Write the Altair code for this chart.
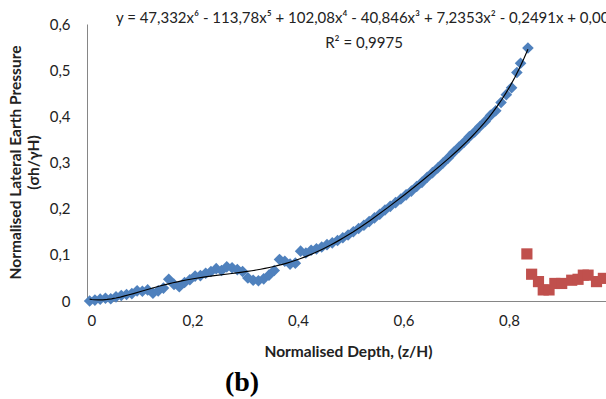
import altair as alt
import pandas as pd

# Blue diamonds (measured series)
blue_x = [0.005, 0.015, 0.025, 0.035, 0.045, 0.055, 0.065, 0.075, 0.085, 0.095,
          0.105, 0.115, 0.125, 0.135, 0.145, 0.155, 0.165, 0.175, 0.185, 0.195,
          0.205, 0.215, 0.225, 0.235, 0.245, 0.255, 0.265, 0.275, 0.285, 0.295,
          0.305, 0.315, 0.325, 0.335, 0.345, 0.355, 0.365, 0.375, 0.385, 0.395,
          0.405, 0.415, 0.425, 0.435, 0.445, 0.455, 0.465, 0.475, 0.485, 0.495,
          0.505, 0.515, 0.525, 0.535, 0.545, 0.555, 0.565, 0.575, 0.585, 0.595,
          0.605, 0.615, 0.625, 0.635, 0.645, 0.655, 0.665, 0.675, 0.685, 0.695,
          0.705, 0.715, 0.725, 0.735, 0.745, 0.755, 0.765, 0.775, 0.785, 0.795,
          0.805, 0.815, 0.822, 0.836]
blue_y = [0.000, 0.002, 0.004, 0.006, 0.005, 0.009, 0.012, 0.014, 0.016, 0.022,
          0.021, 0.024, 0.017, 0.022, 0.028, 0.047, 0.036, 0.031, 0.040, 0.046,
          0.054, 0.055, 0.060, 0.064, 0.070, 0.066, 0.074, 0.072, 0.068, 0.064,
          0.050, 0.045, 0.044, 0.048, 0.056, 0.066, 0.090, 0.086, 0.080, 0.082,
          0.108, 0.104, 0.110, 0.113, 0.117, 0.122, 0.126, 0.131, 0.137, 0.143,
          0.150, 0.157, 0.164, 0.172, 0.180, 0.188, 0.197, 0.205, 0.213, 0.221,
          0.230, 0.238, 0.248, 0.257, 0.268, 0.278, 0.288, 0.299, 0.310, 0.322,
          0.333, 0.344, 0.356, 0.366, 0.378, 0.389, 0.402, 0.412, 0.430, 0.447,
          0.462, 0.495, 0.515, 0.548]

# Red squares (second series)
red_x = [0.834, 0.843, 0.856, 0.865, 0.876, 0.887, 0.900, 0.919, 0.931, 0.941,
         0.950, 0.966, 0.979]
red_y = [0.102, 0.058, 0.042, 0.024, 0.024, 0.038, 0.038, 0.045, 0.047, 0.056,
         0.056, 0.042, 0.049]

x_ticks = [0, 0.2, 0.4, 0.6, 0.8]
y_ticks = [0, 0.1, 0.2, 0.3, 0.4, 0.5, 0.6]

equation = "y = 47,332x\u2076 - 113,78x\u2075 + 102,08x\u2074 - 40,846x\u00b3 + 7,2353x\u00b2 - 0,2491x + 0,005"
r2_text = "R\u00b2 = 0,9975"

blue = pd.DataFrame({"x": blue_x, "y": blue_y})
red = pd.DataFrame({"x": red_x, "y": red_y})

FONT = "Lato"
TXT = "#222222"
X_MAX = 0.984

xs = alt.Scale(domain=[0, X_MAX], nice=False, zero=False)
ys = alt.Scale(domain=[0, 0.6], nice=False)
label_expr = "datum.value == 0 ? '0' : replace(format(datum.value, '.1f'), '.', ',')"

x_axis = alt.Axis(values=x_ticks, labelExpr=label_expr, ticks=False, grid=False,
                  domainColor="#868686", labelFont=FONT, labelFontSize=15,
                  labelColor=TXT, labelPadding=12,
                  title="Normalised Depth, (z/H)", titleFont=FONT, titleFontSize=15.5,
                  titleFontWeight="bold", titleColor=TXT, titleX=261, titleY=50,
                  titleBaseline="middle", titleAlign="center")
y_axis = alt.Axis(values=y_ticks, labelExpr=label_expr, ticks=False, grid=False,
                  domainColor="#868686", labelFont=FONT, labelFontSize=15,
                  labelColor=TXT, labelPadding=17,
                  title=["Normalised Lateral Earth Pressure", "(\u03c3h/\u03b3H)"],
                  titleFont=FONT, titleFontSize=15.5, titleFontWeight="bold",
                  titleColor=TXT, titleX=-72, titleY=138, titleAngle=-90,
                  titleBaseline="middle", titleAlign="center", titleLineHeight=18)

base_blue = alt.Chart(blue)

pts_blue = base_blue.mark_point(shape="diamond", filled=True, size=135,
                                color="#4F81BD", opacity=1).encode(
    x=alt.X("x:Q", scale=xs, axis=x_axis),
    y=alt.Y("y:Q", scale=ys, axis=y_axis),
)

trend = base_blue.transform_regression("x", "y", method="poly", order=6).mark_line(
    color="#000000", strokeWidth=1.2).encode(
    x=alt.X("x:Q", scale=xs),
    y=alt.Y("y:Q", scale=ys),
)

pts_red = alt.Chart(red).mark_point(shape="square", filled=True, size=125,
                                    color="#C0504D", opacity=1).encode(
    x=alt.X("x:Q", scale=xs),
    y=alt.Y("y:Q", scale=ys),
)

eq_text = alt.Chart(pd.DataFrame({"t": [equation]})).mark_text(
    font=FONT, fontSize=15, color=TXT, align="center", baseline="middle").encode(
    text="t:N", x=alt.value(280), y=alt.value(-6))

r2 = alt.Chart(pd.DataFrame({"t": [r2_text]})).mark_text(
    font=FONT, fontSize=15, color=TXT, align="center", baseline="middle").encode(
    text="t:N", x=alt.value(277), y=alt.value(19))

label_b = alt.Chart(pd.DataFrame({"t": ["(b)"]})).mark_text(
    font="Liberation Serif", fontSize=28, fontWeight="bold", color="#000000",
    align="center", baseline="middle").encode(
    text="t:N", x=alt.value(155), y=alt.value(359))

chart = alt.layer(pts_red, pts_blue, trend, eq_text, r2, label_b).properties(
    width=519, height=277,
    autosize=alt.AutoSizeParams(type="none"),
    padding={"left": 87, "top": 24, "right": 0, "bottom": 98},
    background="white",
).configure_view(stroke=None)

chart.save("out.html", embed_options={"renderer": "svg", "actions": False})
